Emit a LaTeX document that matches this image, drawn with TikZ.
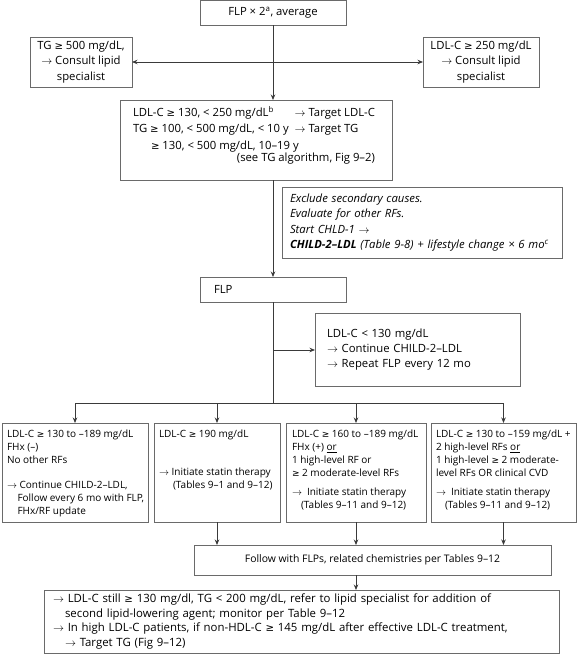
\documentclass[tikz,border=0pt]{standalone}
\usepackage{fontspec}
\setmainfont{Open Sans}
\newfontfamily\symf{DejaVu Sans}
\usetikzlibrary{arrows.meta}
\newcommand{\RA}{$\rightarrow$}
\newcommand{\GE}{{\symf\fontsize{0.9em}{1em}\selectfont ≥}}
\definecolor{bordergray}{HTML}{6A6A6A}
\definecolor{linegray}{HTML}{3A3A3A}
\begin{document}
\begin{tikzpicture}[x=1pt,y=-1pt,
  font=\fontsize{11.3}{15.2}\selectfont,
  box/.style={draw=bordergray, line width=0.8pt, inner sep=0pt, outer sep=0pt, anchor=north west},
  conn/.style={draw=linegray, line width=0.75pt},
  arr/.style={conn, -{Stealth[length=5.5pt,width=4.5pt]}},
  txt/.style={inner sep=0pt, outer sep=0pt, anchor=north west, align=left},
  small/.style={font=\fontsize{10}{13}\selectfont}]
\useasboundingbox (0,0) rectangle (578,655);

% top
\node[box, minimum width=146pt, minimum height=25pt] (top) at (200,0.5) {FLP × 2\textsuperscript{a}, average};
\node[box, minimum width=102pt, minimum height=50pt, align=center] (tg) at (30,37)
  {TG \GE{} 500 mg/dL,\\\RA{} Consult lipid\\specialist};
\node[box, minimum width=116pt, minimum height=50pt, align=center] (ldlhi) at (423,37)
  {LDL-C \GE{} 250 mg/dL\\\RA{} Consult lipid\\specialist};

% box 2
\node[box, minimum width=272pt, minimum height=80pt] (b2) at (120,100) {};
\node[txt] (b2t) at (133,106) {\begin{tabular}{@{}l@{\hspace{6pt}}l@{}}
LDL-C \GE{} 130, < 250 mg/dL\textsuperscript{b} & \RA{} Target LDL-C\\[1pt]
TG \GE{} 100, < 500 mg/dL, < 10 y & \RA{} Target TG\\[1pt]
\multicolumn{2}{@{}l@{}}{\hspace*{18pt}\GE{} 130, < 500 mg/dL, 10–19 y}\\[-3pt]
\multicolumn{2}{@{}r@{}}{(see TG algorithm, Fig 9–2)}
\end{tabular}};

% italic box
\node[box, minimum width=280pt, minimum height=71pt, text width=264pt, align=left, font=\fontsize{11.3}{15.3}\selectfont\itshape] (ital) at (282,187)
  {Exclude secondary causes.\\Evaluate for other RFs.\\Start CHLD-1 \RA\\\textbf{CHILD-2–LDL} (Table 9-8) + lifestyle change × 6 mo\textsuperscript{c}};

% FLP
\node[box, minimum width=146pt, minimum height=25pt, text width=118pt, align=left] (flp) at (200,277) {FLP};
\node[box, minimum width=205pt, minimum height=73pt, text width=181pt, align=left] (low) at (315,313)
  {LDL-C < 130 mg/dL\\\RA{} Continue CHILD-2–LDL\\\RA{} Repeat FLP every 12 mo};

\coordinate (j) at (273,350);
\coordinate (br) at (273,403);

% four boxes
\node[box, minimum width=146pt, minimum height=99pt] (bA) at (2,423) {};
\node[box, minimum width=126pt, minimum height=99pt] (bB) at (154,423) {};
\node[box, minimum width=140pt, minimum height=99pt] (bC) at (286,423) {};
\node[box, minimum width=145pt, minimum height=99pt] (bD) at (431,423) {};

\node[txt, small] (tA) at (7,430) {LDL-C \GE{} 130 to –189 mg/dL\\FHx (–)\\No other RFs\\[12pt]\RA{} Continue CHILD-2–LDL,\\\hspace*{10.5pt}Follow every 6 mo with FLP,\\\hspace*{10.5pt}FHx/RF update};
\node[txt, small] (tB) at (159,430) {LDL-C \GE{} 190 mg/dL\\[25pt]\RA{} Initiate statin therapy\\\hspace*{14pt}(Tables 9–1 and 9–12)};
\node[txt, small] (tC) at (292,430) {LDL-C \GE{} 160 to –189 mg/dL\\FHx (+) \underline{or}\\1 high-level RF or\\\GE{} 2 moderate-level RFs\\[6pt]\RA{}\enspace Initiate statin therapy\\\hspace*{9pt}(Tables 9–11 and 9–12)};
\node[txt, small] (tD) at (436,430) {LDL-C \GE{} 130 to –159 mg/dL +\\2 high-level RFs \underline{or}\\1 high-level \GE{} 2 moderate-\\level RFs OR clinical CVD\\[6pt]\RA{}\enspace Initiate statin therapy\\\hspace*{9pt}(Tables 9–11 and 9–12)};

% follow and bottom
\node[box, minimum width=357pt, minimum height=30pt, font=\fontsize{10.4}{12}\selectfont] (fol) at (194,545) {Follow with FLPs, related chemistries per Tables 9–12};
\node[box, minimum width=515pt, minimum height=63pt, text width=497pt, align=left, font=\fontsize{11.4}{14.6}\selectfont] (bot) at (44,590)
  {\RA{} LDL-C still \GE{} 130 mg/dl, TG < 200 mg/dL, refer to lipid specialist for addition of\\\hspace*{12pt}second lipid-lowering agent; monitor per Table 9–12\\\RA{} In high LDL-C patients, if non-HDL-C \GE{} 145 mg/dL after effective LDL-C treatment,\\\hspace*{12pt}\RA{} Target TG (Fig 9–12)};

% connectors
\draw[conn, {Stealth[length=5.5pt,width=4.5pt]}-{Stealth[length=5.5pt,width=4.5pt]}] (tg.east) -- (ldlhi.west);
\draw[arr] (top.south) -- (top.south |- b2.north);
\draw[arr] (b2.south -| top.south) -- (flp.north -| top.south);
\draw[conn] (flp.south -| top.south) -- (br);
\draw[arr] (j) -- (low.west |- j);
\draw[conn] (bA.north |- br) -- (bD.north |- br);
\draw[arr] (bA.north |- br) -- (bA.north);
\draw[arr] (bB.north |- br) -- (bB.north);
\draw[arr] (bC.north |- br) -- (bC.north);
\draw[arr] (bD.north |- br) -- (bD.north);
\draw[arr] (bB.south) -- (bB.south |- fol.north);
\draw[arr] (bC.south) -- (bC.south |- fol.north);
\draw[arr] (bD.south) -- (bD.south |- fol.north);
\draw[arr] (bC.south |- fol.south) -- (bC.south |- bot.north);
\end{tikzpicture}
\end{document}
